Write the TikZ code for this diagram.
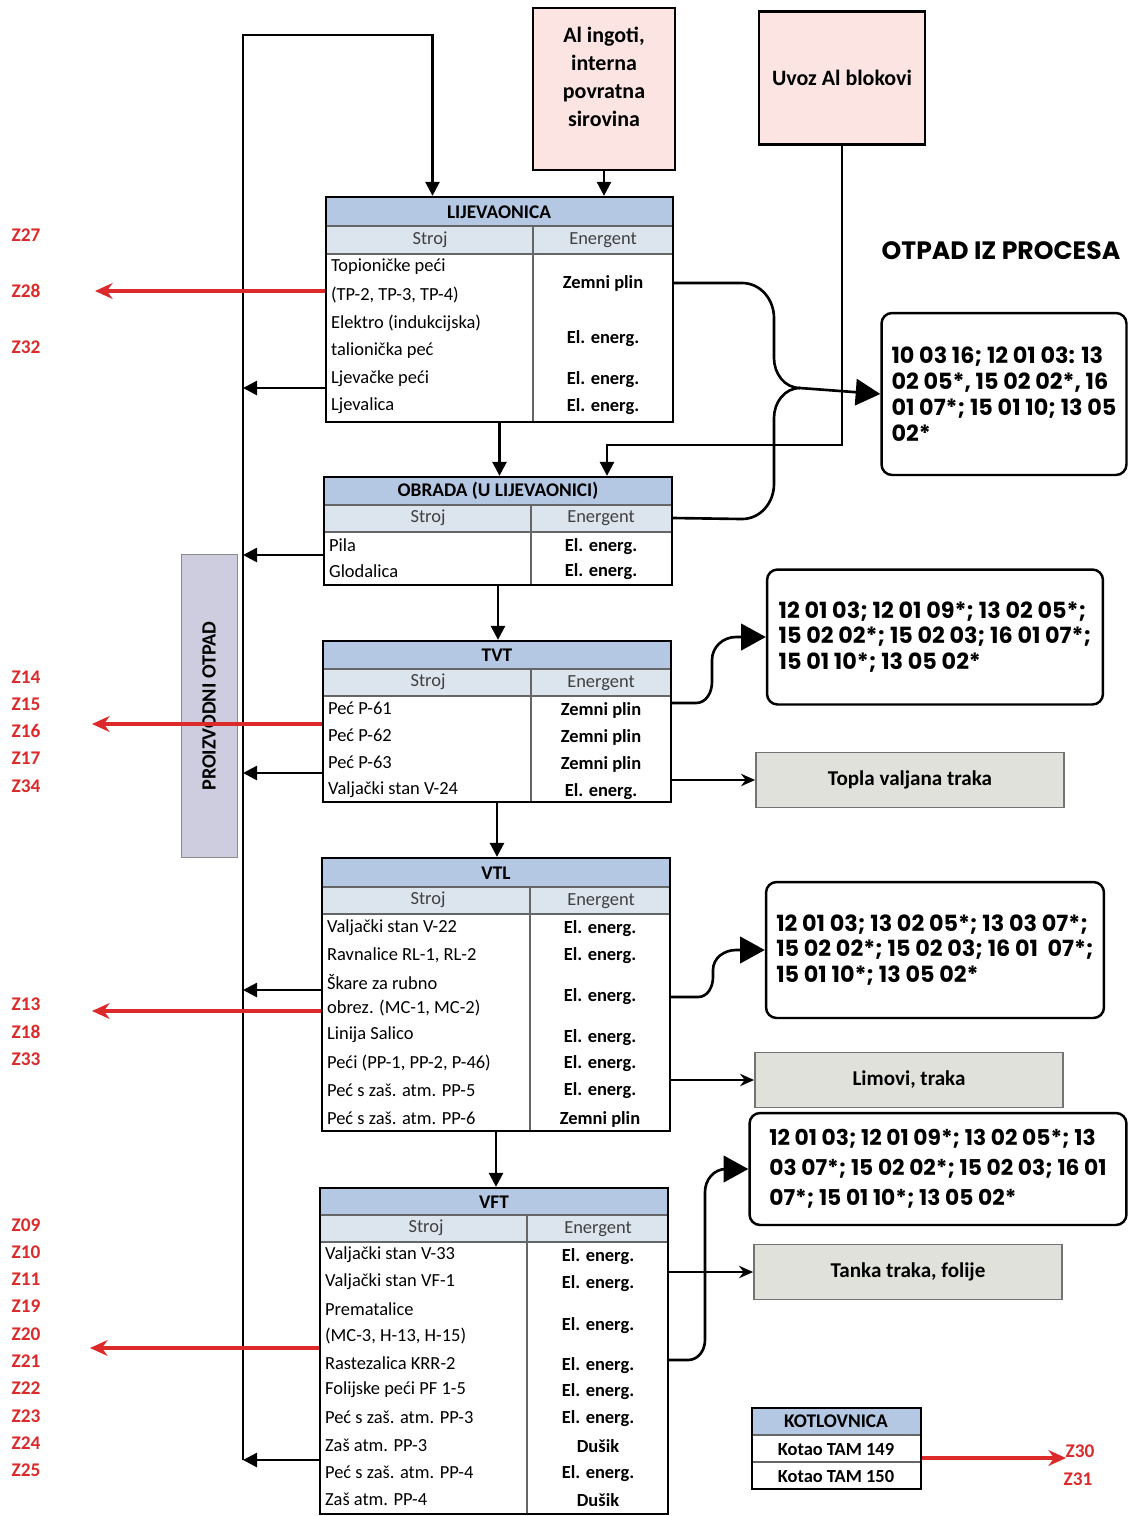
\documentclass[tikz,border=0pt]{standalone}
\usepackage{fontspec}
\setmainfont{Carlito}
\newfontfamily\popp{Poppins}
\usetikzlibrary{positioning,arrows.meta,fit,calc}

\definecolor{hdrblue}{HTML}{B4C8E4}
\definecolor{subblue}{HTML}{DCE4EE}
\definecolor{rawpink}{HTML}{FBE4E2}
\definecolor{prodgray}{HTML}{E1E1DC}
\definecolor{scrapgray}{HTML}{CDCDDF}
\definecolor{zred}{HTML}{DC2A2A}

\begin{document}
\begin{tikzpicture}[x=0.02cm, y=-0.02cm,
    frame/.style={draw, line width=1.3pt, inner sep=0pt},
    gridl/.style={draw=black!60, line width=0.8pt},
    hdr/.style={fill=hdrblue},
    subh/.style={fill=subblue},
    ttl/.style={font=\bfseries\fontsize{11}{12}\selectfont},
    colh/.style={font=\fontsize{10.5}{12}\selectfont, text=black!75},
    stroj/.style={anchor=west, inner sep=1pt, font=\fontsize{10.5}{12}\selectfont},
    energ/.style={inner sep=1pt, font=\bfseries\fontsize{10.5}{12}\selectfont},
    rawbox/.style={draw, line width=1.2pt, fill=rawpink, align=center, font=\bfseries\fontsize{12.5}{16}\selectfont},
    prodbox/.style={draw=black!55, line width=1pt, fill=prodgray, minimum width=6.16cm, minimum height=1.1cm, font=\bfseries\fontsize{12}{14}\selectfont},
    codebox/.style={draw, line width=1.4pt, rounded corners=6pt, align=left, font=\popp\bfseries\fontsize{12.7}{14.7}\selectfont},
    zlab/.style={text=zred, font=\bfseries\fontsize{11}{12}\selectfont},
    flow/.style={line width=1.5pt, -{Triangle[length=8pt,width=8pt]}},
    wire/.style={line width=1.5pt},
    prod/.style={line width=1.3pt, -{Stealth[length=8pt,width=7pt]}},
    big/.style={line width=1.5pt, -{Triangle[length=14pt,width=15pt]}},
    redarr/.style={draw=zred, line width=2pt, -{Stealth[length=10pt,width=9pt]}}
]
\useasboundingbox (0,0) rectangle (1129,1516);

% ulazne sirovine
\node[rawbox, minimum width=2.84cm, minimum height=3.24cm] (raw1) at (604,89) {};
\node[rawbox, draw=none, fill=none] (raw1txt) at (604,77) {Al ingoti,\\ interna\\ povratna\\ sirovina};
\node[rawbox, minimum width=3.32cm, minimum height=2.66cm] (raw2) at (842,78) {Uvoz Al blokovi};

% proizvodni otpad
\node[draw=black!45, fill=scrapgray, rotate=90, minimum width=6.06cm, minimum height=1.12cm,
      font=\bfseries\fontsize{11.5}{12}\selectfont] (scrap) at (209,706) {PROIZVODNI OTPAD};

% LIJEVAONICA
\fill[hdr] (326,197) rectangle (673,226);
\fill[subh] (326,226) rectangle (673,254);
\draw[gridl] (326,226) -- (673,226) (326,254) -- (673,254) (533,226) -- (533,422);
\node[frame, fit={(326,197) (673,422)}] (liv) {};
\node[ttl] (livt) at (499,212) {LIJEVAONICA};
\node[colh] (livs) at (430,240) {Stroj};
\node[colh] (live) at (603,240) {Energent};
\foreach \y/\t [count=\i] in {267/Topioničke peći, 295/{(TP-2, TP-3, TP-4)}, 323/Elektro (indukcijska),
    351/talionička peć, 379/Ljevačke peći, 406/Ljevalica}
  \node[stroj] (ls\i) at (329,\y) {\t};
\foreach \y/\t [count=\i] in {283/Zemni plin, 339/El. energ., 380/El. energ., 407/El. energ.}
  \node[energ] (le\i) at (603,\y) {\t};

% OBRADA
\fill[hdr] (324,477) rectangle (672,505);
\fill[subh] (324,505) rectangle (672,532);
\draw[gridl] (324,505) -- (672,505) (324,532) -- (672,532) (531,505) -- (531,585);
\node[frame, fit={(324,477) (672,585)}] (obr) {};
\node[ttl] (obrt) at (498,491) {OBRADA (U LIJEVAONICI)};
\node[colh] (obrs) at (428,518) {Stroj};
\node[colh] (obre) at (601,518) {Energent};
\foreach \y/\t [count=\i] in {545/Pila, 571/Glodalica}
  \node[stroj] (os\i) at (327,\y) {\t};
\foreach \y/\t [count=\i] in {547/El. energ., 572/El. energ.}
  \node[energ] (oe\i) at (601,\y) {\t};

% TVT
\fill[hdr] (323,641) rectangle (671,669);
\fill[subh] (323,669) rectangle (671,696);
\draw[gridl] (323,669) -- (671,669) (323,696) -- (671,696) (531,669) -- (531,802);
\node[frame, fit={(323,641) (671,802)}] (tvt) {};
\node[ttl] (tvtt) at (497,655) {TVT};
\node[colh] (tvts) at (428,682) {Stroj};
\node[colh] (tvte) at (601,683) {Energent};
\foreach \y/\t [count=\i] in {708/Peć P-61, 735/Peć P-62, 762/Peć P-63, 790/Valjački stan V-24}
  \node[stroj] (ts\i) at (326,\y) {\t};
\foreach \y/\t [count=\i] in {710/Zemni plin, 737/Zemni plin, 764/Zemni plin, 792/El. energ.}
  \node[energ] (te\i) at (601,\y) {\t};

% VTL
\fill[hdr] (322,858) rectangle (670,887);
\fill[subh] (322,887) rectangle (670,914);
\draw[gridl] (322,887) -- (670,887) (322,914) -- (670,914) (530,887) -- (530,1131);
\node[frame, fit={(322,858) (670,1131)}] (vtl) {};
\node[ttl] (vtlt) at (496,873) {VTL};
\node[colh] (vtls) at (428,900) {Stroj};
\node[colh] (vtle) at (601,901) {Energent};
\foreach \y/\t [count=\i] in {928/Valjački stan V-22, 955/{Ravnalice RL-1, RL-2}, 982/Škare za rubno,
    1008/{obrez. (MC-1, MC-2)}, 1035/Linija Salico, 1063/{Peći (PP-1, PP-2, P-46)},
    1090/Peć s zaš. atm. PP-5, 1118/Peć s zaš. atm. PP-6}
  \node[stroj] (vs\i) at (325,\y) {\t};
\foreach \y/\t [count=\i] in {929/El. energ., 956/El. energ., 997/El. energ., 1038/El. energ.,
    1064/El. energ., 1091/El. energ., 1119/Zemni plin}
  \node[energ] (ve\i) at (600,\y) {\t};

% VFT
\fill[hdr] (320,1188) rectangle (668,1215);
\fill[subh] (320,1215) rectangle (668,1242);
\draw[gridl] (320,1215) -- (668,1215) (320,1242) -- (668,1242) (527,1215) -- (527,1514);
\node[frame, fit={(320,1188) (668,1514)}] (vft) {};
\node[ttl] (vftt) at (494,1202) {VFT};
\node[colh] (vfts) at (426,1228) {Stroj};
\node[colh] (vfte) at (598,1229) {Energent};
\foreach \y/\t [count=\i] in {1255/Valjački stan V-33, 1282/Valjački stan VF-1, 1309/Prematalice,
    1336/{(MC-3, H-13, H-15)}, 1363/Rastezalica KRR-2, 1390/Folijske peći PF 1-5,
    1417/Peć s zaš. atm. PP-3, 1445/Zaš atm. PP-3, 1472/Peć s zaš. atm. PP-4, 1499/Zaš atm. PP-4}
  \node[stroj] (fs\i) at (323,\y) {\t};
\foreach \y/\t [count=\i] in {1257/El. energ., 1284/El. energ., 1326/El. energ., 1366/El. energ.,
    1392/El. energ., 1419/El. energ., 1446/Dušik, 1474/El. energ., 1500/Dušik}
  \node[energ] (fe\i) at (598,\y) {\t};

% KOTLOVNICA
\fill[hdr] (752,1408) rectangle (921,1435);
\draw[gridl] (752,1435) -- (921,1435) (752,1462) -- (921,1462);
\node[frame, fit={(752,1408) (921,1489)}] (kot) {};
\node[ttl] (kott) at (836,1421) {KOTLOVNICA};
\node[energ] (kot1) at (836,1449) {Kotao TAM 149};
\node[energ] (kot2) at (836,1476) {Kotao TAM 150};

% otpad iz procesa
\node[font=\popp\bfseries\fontsize{14.3}{16}\selectfont] (otp) at (1001,251) {OTPAD IZ PROCESA};
\node[codebox, minimum width=4.9cm, minimum height=3.24cm] (c1) at (1004,394)
  {10 03 16; 12 01 03: 13\\ 02 05*, 15 02 02*, 16\\ 01 07*; 15 01 10; 13 05\\ 02*};
\node[codebox, minimum width=6.72cm, minimum height=2.7cm] (c2) at (935,637)
  {12 01 03; 12 01 09*; 13 02 05*;\\ 15 02 02*; 15 02 03; 16 01 07*;\\ 15 01 10*; 13 05 02*};
\node[codebox, minimum width=6.76cm, minimum height=2.72cm] (c3) at (935,950)
  {12 01 03; 13 02 05*; 13 03 07*;\\ 15 02 02*; 15 02 03; 16 01 \ 07*;\\ 15 01 10*; 13 05 02*};
\node[codebox, minimum width=7.54cm, minimum height=2.24cm,
      font=\popp\bfseries\fontsize{12.4}{17}\selectfont] (c4) at (938,1169)
  {12 01 03; 12 01 09*; 13 02 05*; 13\\ 03 07*; 15 02 02*; 15 02 03; 16 01\\ 07*; 15 01 10*; 13 05 02*};

% proizvodi
\node[prodbox] (topla) at (910,780) {Topla valjana traka};
\node[prodbox] (lim) at (909,1080) {Limovi, traka};
\node[prodbox] (tanka) at (908,1272) {Tanka traka, folije};

% oznake ispusta
\foreach \y/\t [count=\i] in {235/Z27, 291/Z28, 347/Z32, 677/Z14, 704/Z15, 731/Z16, 758/Z17, 786/Z34,
    1004/Z13, 1032/Z18, 1059/Z33, 1225/Z09, 1252/Z10, 1279/Z11, 1306/Z19, 1334/Z20, 1361/Z21,
    1388/Z22, 1416/Z23, 1443/Z24, 1470/Z25}
  \node[zlab] (z\i) at (26,\y) {\t};
\node[zlab] (z30) at (1080,1451) {Z30};
\node[zlab] (z31) at (1078,1479) {Z31};

% sabirni vod proizvodnog otpada
\coordinate (bustop) at (243,35);
\coordinate (busbot) at (243,1460);
\coordinate (b1) at (243,388);
\coordinate (b2) at (243,555);
\coordinate (b3) at (243,773);
\coordinate (b4) at (243,990);
\draw[flow] (busbot) -- (bustop) -| ($(liv.north)+(-67,0)$);
\draw[flow] (liv.west |- b1) -- (b1);
\draw[flow] (obr.west |- b2) -- (b2);
\draw[flow] (tvt.west |- b3) -- (b3);
\draw[flow] (vtl.west |- b4) -- (b4);
\draw[flow] (vft.west |- busbot) -- (busbot);

% tok materijala
\draw[flow] (raw1.south) -- (raw1.south |- liv.north);
\coordinate (j2) at (607,445);
\draw[flow] (raw2.south) |- (j2) -- (j2 |- obr.north);
\draw[flow] (liv.south) -- (liv.south |- obr.north);
\draw[flow] (obr.south) -- (obr.south |- tvt.north);
\draw[flow] (tvt.south) -- (tvt.south |- vtl.north);
\draw[flow] (vtl.south) -- (vtl.south |- vft.north);

% otpad -> kodovi
\coordinate (j1) at (800,388);
\draw[wire] (liv.east |- le1) -- (742,283) to[out=0,in=90] (774,318) -- (774,358) to[out=-90,in=180] (j1);
\draw[wire] (obr.east |- obre) -- (742,519) to[out=0,in=-90] (774,484) -- (774,418) to[out=90,in=180] (j1);
\draw[big] (j1) -- (c1.west);
\draw[big] (tvt.east |- 0,703) -- (696,703) to[out=0,in=-90] (712,682) -- (712,660) to[out=90,in=180] (736,637) -- (c2.west);
\draw[big] (vtl.east |- ve3) -- (698,997) to[out=0,in=-90] (713,977) -- (713,970) to[out=90,in=180] (736,950) -- (c3.west);
\draw[big] (vft.east |- 0,1360) -- (688,1360) to[out=0,in=-90] (705,1340) -- (705,1192) to[out=90,in=180] (726,1169) -- (c4.west);

% proizvodi
\draw[prod] (tvt.east |- topla) -- (topla.west);
\draw[prod] (vtl.east |- lim) -- (lim.west);
\draw[prod] (vft.east |- tanka) -- (tanka.west);

% emisije
\coordinate (r1) at (95,291);
\coordinate (r2) at (92,724);
\coordinate (r3) at (92,1011);
\coordinate (r4) at (90,1348);
\coordinate (r5) at (1066,1458);
\draw[redarr] (liv.west |- r1) -- (r1);
\draw[redarr] (tvt.west |- r2) -- (r2);
\draw[redarr] (vtl.west |- r3) -- (r3);
\draw[redarr] (vft.west |- r4) -- (r4);
\draw[redarr] (kot.east |- r5) -- (r5);
\end{tikzpicture}
\end{document}
